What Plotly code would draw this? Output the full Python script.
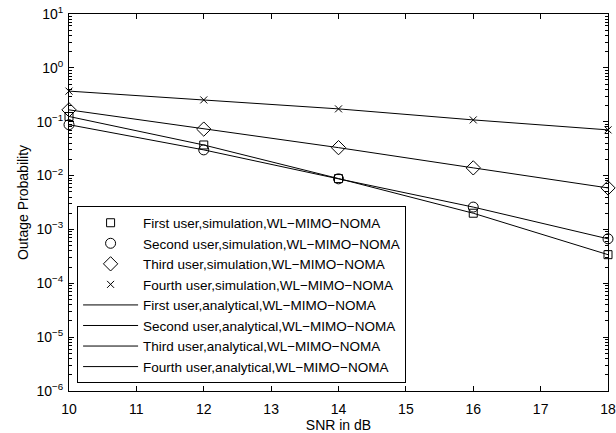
import plotly.graph_objects as go

snr = [10, 12, 14, 16, 18]
first_user = [0.125, 0.037, 0.0088, 0.0020, 0.00034]
second_user = [0.088, 0.030, 0.0087, 0.0026, 0.00067]
third_user = [0.166, 0.073, 0.033, 0.0139, 0.0059]
fourth_user = [0.37, 0.254, 0.173, 0.108, 0.0705]

users = ["First", "Second", "Third", "Fourth"]
series = [first_user, second_user, third_user, fourth_user]
symbols = ["square-open", "circle-open", "diamond-open", "x-thin-open"]
sizes = [8, 10, 11, 7]

y_exponents = [-6, -5, -4, -3, -2, -1, 0, 1]
y_tickvals = [10.0 ** e for e in y_exponents]
y_ticktext = ["10<sup>" + str(e).replace("-", "\u2212") + "</sup>" for e in y_exponents]

FONT = "Liberation Sans, Arial, Helvetica"

fig = go.Figure()
for name, vals, sym, sz in zip(users, series, symbols, sizes):
    fig.add_trace(go.Scatter(
        x=snr, y=vals, mode="markers", cliponaxis=False,
        name=f"{name} user,simulation,WL\u2212MIMO\u2212NOMA",
        marker=dict(symbol=sym, size=sz, color="black",
                    line=dict(color="black", width=1)),
    ))
for name, vals in zip(users, series):
    fig.add_trace(go.Scatter(
        x=snr, y=vals, mode="lines",
        name=f"{name} user,analytical,WL\u2212MIMO\u2212NOMA",
        line=dict(color="black", width=1),
    ))

axis_common = dict(
    showline=True, linecolor="black", linewidth=1, mirror="ticks",
    ticks="inside", tickcolor="black", showgrid=False, zeroline=False,
    automargin=False,
    tickfont=dict(family=FONT, size=14, color="black"),
)
fig.update_xaxes(range=[10, 18], dtick=1, ticklen=5, ticklabelstandoff=5,
                 title=dict(text="SNR in dB", standoff=0,
                            font=dict(family=FONT, size=14, color="black")),
                 **axis_common)
fig.update_yaxes(type="log", range=[-6, 1], tickvals=y_tickvals, ticktext=y_ticktext,
                 ticklen=5, ticklabelstandoff=2,
                 minor=dict(ticks="inside", ticklen=3, tickcolor="black", dtick="D1"),
                 title=dict(text="Outage Probability", standoff=4,
                            font=dict(family=FONT, size=14, color="black")),
                 **axis_common)

fig.update_layout(
    width=616, height=433,
    margin=dict(l=69, r=8, t=14, b=42),
    plot_bgcolor="white", paper_bgcolor="white",
    font=dict(family=FONT, size=14, color="black"),
    legend=dict(x=0.015, y=0.02, xanchor="left", yanchor="bottom",
                bgcolor="white", bordercolor="black", borderwidth=1,
                font=dict(family=FONT, size=13.5), itemwidth=55, tracegroupgap=0),
)

fig.write_html("out.html", config={"displayModeBar": False},
               post_script="document.body.style.margin='0';")
